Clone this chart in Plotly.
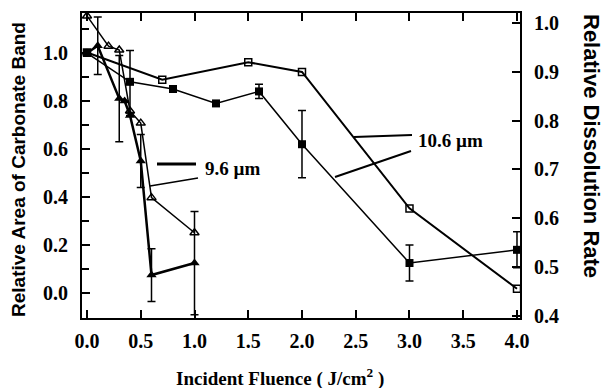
import plotly.graph_objects as go

# ---- data ----
# 10.6 um, relative area of carbonate band (filled squares, left axis)
sq_fill_x = [0.0, 0.4, 0.8, 1.2, 1.6, 2.0, 3.0, 4.0]
sq_fill_y = [1.0, 0.88, 0.85, 0.79, 0.84, 0.62, 0.125, 0.18]
sq_fill_err = [None, 0.13, None, None, 0.03, 0.14, 0.075, 0.075]

# 10.6 um, relative dissolution rate (open squares, right axis)
sq_open_x = [0.0, 0.7, 1.5, 2.0, 3.0, 4.0]
sq_open_y = [0.94, 0.884, 0.92, 0.90, 0.62, 0.455]

# 9.6 um, relative area of carbonate band (filled triangles, left axis)
tri_fill_x = [0.0, 0.1, 0.3, 0.35, 0.4, 0.5, 0.6, 1.0]
tri_fill_y = [1.0, 1.03, 0.81, 0.80, 0.74, 0.55, 0.075, 0.125]
tri_fill_err = [None, 0.12, 0.18, None, None, 0.11, 0.11, 0.215]

# 9.6 um, relative dissolution rate (open triangles, right axis)
tri_open_x = [0.0, 0.2, 0.3, 0.4, 0.5, 0.6, 1.0]
tri_open_y = [1.015, 0.953, 0.945, 0.82, 0.795, 0.642, 0.57]

x_ticks = [0.0, 0.5, 1.0, 1.5, 2.0, 2.5, 3.0, 3.5, 4.0]
y_left_ticks = [0.0, 0.2, 0.4, 0.6, 0.8, 1.0]
y_right_ticks = [0.4, 0.5, 0.6, 0.7, 0.8, 0.9, 1.0]

# ---- figure ----
W, H = 605, 388
ML, MR, MT, MB = 82, 85, 13, 70
PW, PH = W - ML - MR, H - MT - MB

serif = dict(family="Liberation Serif, Times New Roman, serif", size=20, color="black", weight="bold")
serif_lbl = dict(family="Liberation Serif, Times New Roman, serif", size=19, color="black", weight="bold")
sans = dict(family="Liberation Sans, Arial, sans-serif", color="black", weight="bold")

fig = go.Figure()

fig.add_trace(go.Scatter(
    x=sq_open_x, y=sq_open_y, yaxis="y2", mode="lines+markers",
    line=dict(color="black", width=2),
    marker=dict(symbol="square-open", size=7, color="black", line=dict(width=1.5, color="black")),
    showlegend=False))

fig.add_trace(go.Scatter(
    x=sq_fill_x, y=sq_fill_y, mode="lines+markers",
    line=dict(color="black", width=1.5),
    marker=dict(symbol="square", size=8, color="black"),
    error_y=dict(type="data", array=sq_fill_err, visible=True, color="black", thickness=1.5, width=4),
    showlegend=False))

fig.add_trace(go.Scatter(
    x=tri_open_x, y=tri_open_y, yaxis="y2", mode="lines+markers",
    line=dict(color="black", width=1.5),
    marker=dict(symbol="triangle-up-open", size=8, color="black", line=dict(width=1.5, color="black")),
    showlegend=False))

fig.add_trace(go.Scatter(
    x=tri_fill_x, y=tri_fill_y, mode="lines+markers",
    line=dict(color="black", width=2.5),
    marker=dict(symbol="triangle-up", size=9, color="black"),
    error_y=dict(type="data", array=tri_fill_err, visible=True, color="black", thickness=1.5, width=4),
    showlegend=False))

def px2paper(px, py):
    return (px - ML) / PW, (H - MB - py) / PH

# leader lines
leaders = [
    ((157, 164), (196, 164), 3),
    ((150, 186), (198, 178), 1.5),
    ((354, 137), (412, 135), 2),
    ((335, 177), (411, 151), 2),
]
for (a, b, w) in leaders:
    x0, y0 = px2paper(*a)
    x1, y1 = px2paper(*b)
    fig.add_shape(type="line", xref="paper", yref="paper", x0=x0, y0=y0, x1=x1, y1=y1,
                  line=dict(color="black", width=w))

labels = [("9.6 µm", 232, 168), ("10.6 µm", 450, 140)]
for (t, px, py) in labels:
    x, y = px2paper(px, py)
    fig.add_annotation(text=t, xref="paper", yref="paper", x=x, y=y, xanchor="center",
                       yanchor="middle", showarrow=False, font=serif_lbl)

# axis titles
x, y = px2paper(18, 170)
fig.add_annotation(text="Relative Area of Carbonate Band", xref="paper", yref="paper", x=x, y=y,
                   xanchor="center", yanchor="middle", textangle=-90, showarrow=False,
                   font=dict(sans, size=19))
x, y = px2paper(592, 146)
fig.add_annotation(text="Relative Dissolution Rate", xref="paper", yref="paper", x=x, y=y,
                   xanchor="center", yanchor="middle", textangle=90, showarrow=False,
                   font=dict(sans, size=22))
x, y = px2paper(280, 377)
fig.add_annotation(text="Incident Fluence ( J/cm<sup>2</sup> )", xref="paper", yref="paper", x=x, y=y,
                   xanchor="center", yanchor="middle", showarrow=False, font=serif_lbl)

axis_common = dict(showline=True, linecolor="black", linewidth=2, ticks="inside", ticklen=8,
                   tickwidth=2, tickcolor="black", showgrid=False, zeroline=False, tickfont=serif)

fig.update_layout(
    width=W, height=H,
    margin=dict(l=ML, r=MR, t=MT, b=MB),
    paper_bgcolor="white", plot_bgcolor="white",
    xaxis=dict(axis_common, range=[-0.0465, 4.028], tickvals=x_ticks,
               ticktext=[f"{v:.1f}" for v in x_ticks], mirror="ticks", ticklabelstandoff=4),
    yaxis=dict(axis_common, range=[-0.104, 1.1667], tickvals=y_left_ticks,
               ticktext=[f"{v:.1f}" for v in y_left_ticks], ticklabelstandoff=8,
               minor=dict(ticks="inside", dtick=0.1, tick0=0, ticklen=7, tickwidth=2, tickcolor="black")),
    yaxis2=dict(axis_common, range=[0.395, 1.021], tickvals=y_right_ticks,
                ticktext=[f"{v:.1f}" for v in y_right_ticks], overlaying="y", side="right",
                ticklabelstandoff=8),
)

fig.write_html("out.html")
